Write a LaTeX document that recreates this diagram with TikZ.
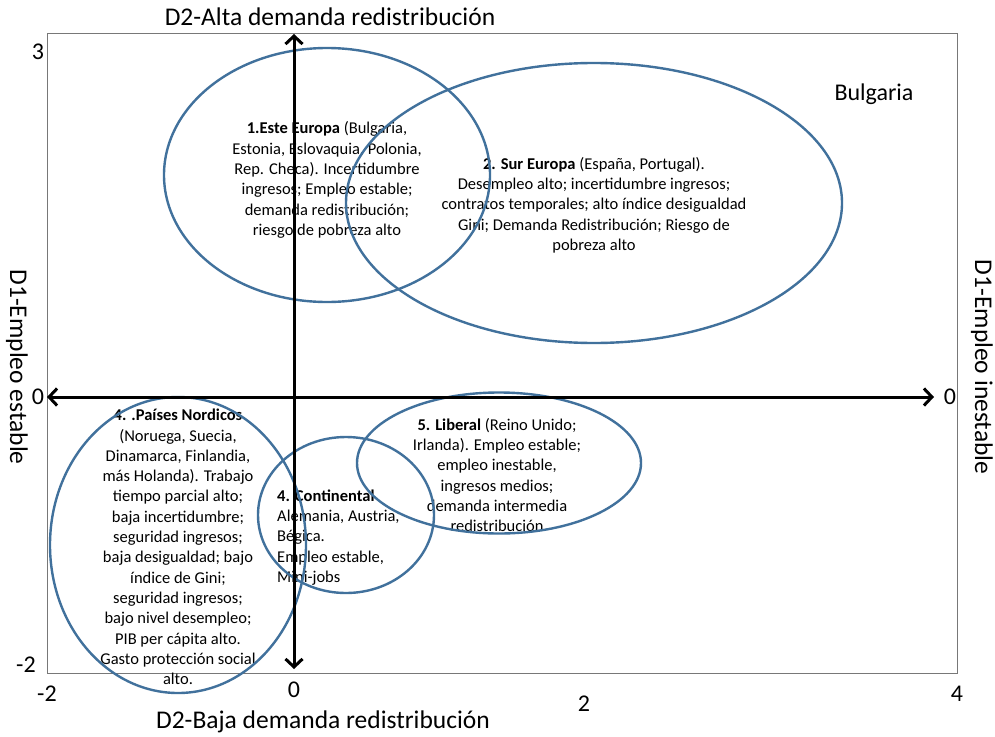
\documentclass[tikz,border=0pt]{standalone}
\usepackage{fontspec}
\setmainfont{Carlito}
\usetikzlibrary{shapes.geometric,arrows.meta}
\definecolor{ellblue}{RGB}{65,113,156}
\definecolor{framegray}{RGB}{120,120,120}
\begin{document}
\begin{tikzpicture}[x=1pt,y=-1pt,
  body/.style={align=center,inner sep=0pt,font=\fontsize{16.5}{20.3}\selectfont},
  bodyl/.style={align=left,inner sep=0pt,anchor=west,font=\fontsize{16.5}{20.3}\selectfont},
  ell/.style={draw=ellblue,line width=2.4pt,ellipse,inner sep=0pt},
  axis/.style={line width=3pt,{Straight Barb[length=8pt,width=17pt]}-{Straight Barb[length=8pt,width=17pt]}},
  tick/.style={inner sep=0pt,font=\fontsize{24}{28}\selectfont},
  title/.style={inner sep=0pt,font=\fontsize{25.5}{30}\selectfont}]
\useasboundingbox (0,0) rectangle (995,736);
\fill[white] (0,0) rectangle (995,736);
\draw[framegray,line width=1pt] (47,33) rectangle (957,673);

% texts
\node[body] (t1) at (327,180) {\textbf{1.Este Europa} (Bulgaria,\\Estonia, Eslovaquia, Polonia,\\Rep. Checa). Incertidumbre\\ingresos; Empleo estable;\\demanda redistribución;\\riesgo de pobreza alto};
\node[body] (t2) at (594,205) {\textbf{2. Sur Europa} (España, Portugal).\\Desempleo alto; incertidumbre ingresos;\\contratos temporales; alto índice desigualdad\\Gini; Demanda Redistribución; Riesgo de\\pobreza alto};
\node[body] (t4) at (178,547) {\textbf{4. .Países Nordicos}\\(Noruega, Suecia,\\Dinamarca, Finlandia,\\más Holanda). Trabajo\\tiempo parcial alto;\\baja incertidumbre;\\seguridad ingresos;\\baja desigualdad; bajo\\índice de Gini;\\seguridad ingresos;\\bajo nivel desempleo;\\PIB per cápita alto.\\Gasto protección social\\alto.};
\node[bodyl] (t3) at (277,537.5) {\textbf{4. Continental}\\Alemania, Austria,\\Bégica.\\Empleo estable,\\Mini-jobs};
\node[body] (t5) at (497,475) {\textbf{5. Liberal} (Reino Unido;\\Irlanda). Empleo estable;\\empleo inestable,\\ingresos medios;\\demanda intermedia\\redistribución};

% ellipses
\node[ell,minimum width=326pt,minimum height=254pt] (e1) at (327,175) {};
\node[ell,minimum width=496pt,minimum height=280pt] (e2) at (594,203) {};
\node[ell,minimum width=256pt,minimum height=296pt] (e4) at (178,545) {};
\node[ell,minimum width=176pt,minimum height=156pt] (e3) at (346,515) {};
\node[ell,minimum width=284pt,minimum height=141pt] (e5) at (499,463) {};

% axes
\coordinate (L) at (47,397);
\coordinate (R) at (934,397);
\coordinate (T) at (294,34);
\coordinate (B) at (294,669);
\draw[axis] (L) -- (R);
\draw[axis] (B) -- (T);

% ticks
\node[tick] (y3) at (38,52) {3};
\node[tick] (y0l) at (38,397) {0};
\node[tick] (ym2) at (26,665) {-2};
\node[tick] (y0r) at (950,397) {0};
\node[tick] (xm2) at (47,694) {-2};
\node[tick] (x0) at (294,690) {0};
\node[tick] (x2) at (584,704) {2};
\node[tick] (x4) at (957,694) {4};

% titles
\node[title] (top) at (330,17) {D2-Alta demanda redistribución};
\node[title] (bot) at (323,722) {D2-Baja demanda redistribución};
\node[title,rotate=-90] (lft) at (17,367) {D1-Empleo estable};
\node[title,rotate=-90] (rgt) at (982,367) {D1-Empleo inestable};
\node[tick] (bul) at (874,94) {Bulgaria};
\end{tikzpicture}
\end{document}
